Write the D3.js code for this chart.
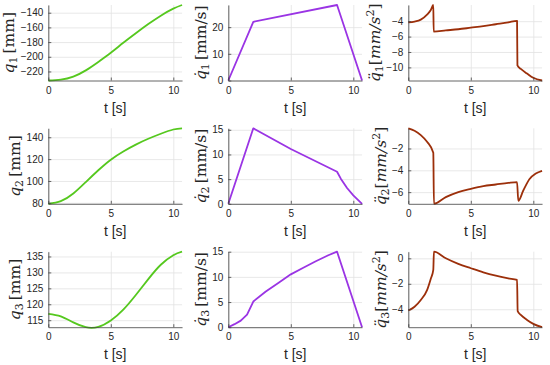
<!DOCTYPE html>
<html>
<head>
<meta charset="utf-8">
<script src="https://cdn.jsdelivr.net/npm/d3@7"></script>
<style>
  body { margin: 0; background: #fff; }
  .tick text { font-family: "Liberation Sans", Arial, sans-serif; font-size: 10px; fill: #262626; }
  .axis path, .axis line { stroke: #404040; stroke-width: 0.8; }
  .grid line { stroke: #e2e2e2; stroke-width: 0.8; }
  .grid path { display: none; }
</style>
</head>
<body>
<svg id="fig" width="550" height="365"></svg>
<script>
// joint positions (mm), sampled every second
var tPos = [0, 1, 2, 3, 4, 5, 6, 7, 8, 9, 10, 10.7];
var q1 = [-232.3, -231.2, -227, -218.5, -207, -194.5, -181, -168, -155.5, -144, -134.5, -129.5];
var q2 = [79.1, 81.5, 88.5, 99, 109.8, 119.5, 127, 133.3, 138.6, 143.2, 147.1, 148.2];
var q3 = [117, 116.2, 114.3, 112.8, 112.9, 114.9, 118.3, 122.9, 127.9, 132.4, 135.4, 136.5];

// joint velocities (mm/s)
var q1dT = [0, 2, 8.7, 10.7];
var q1d = [0, 22, 28.3, 0];
var q2dT = [0, 2, 5, 8.7, 9, 9.5, 10, 10.7];
var q2d = [0, 15.3, 11.1, 6.5, 5.1, 3.2, 1.7, 0];
var q3dT = [0, 0.5, 1, 1.5, 2, 3, 4, 5, 6, 7, 8, 8.7, 10.7];
var q3d = [0, 0.6, 1.3, 2.5, 5.1, 7.1, 8.8, 10.5, 11.8, 13.1, 14.3, 15, 0];

// joint accelerations (mm/s^2)
var q1ddT = [0, 0.5, 1, 1.5, 1.8, 2, 2.03, 3, 4, 5, 6, 7, 8, 8.7, 8.73, 9, 9.5, 10, 10.7];
var q1dd = [-4.15, -4.05, -3.8, -3.15, -2.55, -1.9, -5.35, -5.2, -5.05, -4.85, -4.65, -4.4, -4.15, -3.95, -9.75, -10.2, -10.8, -11.35, -11.7];
var q2ddT = [0, 0.5, 1, 1.5, 2, 2.05, 3, 4, 5, 6, 7, 8, 8.7, 8.8, 9.2, 9.7, 10.2, 10.7];
var q2dd = [-0.15, -0.37, -0.77, -1.38, -2.4, -7.07, -6.46, -6.0, -5.7, -5.45, -5.3, -5.15, -5.08, -6.8, -5.85, -4.8, -4.3, -4.05];
var q3ddT = [0, 0.5, 1, 1.5, 1.8, 2, 2.05, 3, 4, 5, 6, 7, 8, 8.7, 8.75, 9, 9.5, 10, 10.7];
var q3dd = [-4.1, -3.8, -3.27, -2.5, -1.6, -0.9, 0.52, 0, -0.44, -0.78, -1.1, -1.36, -1.57, -1.7, -4.15, -4.45, -4.84, -5.15, -5.41];

// tick labels
var xTicks = [0, 5, 10];
var yTicks = [
  [-220, -200, -180, -160, -140], [0, 10, 20], [-10, -8, -6, -4],
  [80, 100, 120, 140], [0, 5, 10, 15], [-6, -4, -2],
  [115, 120, 125, 130, 135], [0, 5, 10, 15], [-4, -2, 0]
];

var green = "#55c81e", purple = "#9a34e4", brown = "#9c2f0a";

// k: 0 position, 1 velocity, 2 acceleration
var panels = [
  {t: tPos, y: q1, c: green, k: 0, n: "1"},
  {t: q1dT, y: q1d, c: purple, k: 1, n: "1"},
  {t: q1ddT, y: q1dd, c: brown, k: 2, n: "1"},
  {t: tPos, y: q2, c: green, k: 0, n: "2"},
  {t: q2dT, y: q2d, c: purple, k: 1, n: "2"},
  {t: q2ddT, y: q2dd, c: brown, k: 2, n: "2"},
  {t: tPos, y: q3, c: green, k: 0, n: "3"},
  {t: q3dT, y: q3d, c: purple, k: 1, n: "3"},
  {t: q3ddT, y: q3dd, c: brown, k: 2, n: "3"}
];
var curves = [d3.curveNatural, d3.curveLinear, d3.curveMonotoneX];

var colLeft = [48.3, 228.3, 408.3],
  rowTop = [5, 128.3, 251.7],
  width = 133.75,
  height = 75.5;

var svg = d3.select("#fig");
var fmt = d3.format("d");

panels.forEach(function(p, i) {
  var row = Math.floor(i / 3), col = i % 3;
  var g = svg.append("g")
    .attr("transform", "translate(" + colLeft[col] + "," + rowTop[row] + ")");

  // axis tight
  var x = d3.scaleLinear().domain(d3.extent(p.t)).range([0, width]);
  var y = d3.scaleLinear().domain(d3.extent(p.y)).range([height, 0]);

  // grid
  g.append("g").attr("class", "grid")
    .call(d3.axisLeft(y).tickValues(yTicks[i]).tickSize(-width).tickFormat(""));
  g.append("g").attr("class", "grid")
    .attr("transform", "translate(0," + height + ")")
    .call(d3.axisBottom(x).tickValues(xTicks).tickSize(-height).tickFormat(""));

  // the curve
  var pts = p.t.map(function(d, j) { return [d, p.y[j]]; });
  var line = d3.line()
    .x(function(d) { return x(d[0]); })
    .y(function(d) { return y(d[1]); })
    .curve(curves[p.k]);
  g.append("path")
    .datum(pts)
    .attr("d", line)
    .attr("fill", "none")
    .attr("stroke", p.c)
    .attr("stroke-width", 1.8)
    .attr("stroke-linejoin", "round");

  // axes, ticks pointing inwards, no box
  var ya = g.append("g").attr("class", "axis")
    .call(d3.axisLeft(y).tickValues(yTicks[i]).tickFormat(fmt)
      .tickSizeInner(-3).tickSizeOuter(0).tickPadding(5));
  g.append("g").attr("class", "axis")
    .attr("transform", "translate(0," + height + ")")
    .call(d3.axisBottom(x).tickValues(xTicks).tickFormat(fmt)
      .tickSizeInner(-3).tickSizeOuter(0).tickPadding(6));

  // x label
  g.append("text")
    .attr("x", width / 2)
    .attr("y", height + 32)
    .attr("text-anchor", "middle")
    .style("font-family", "'Liberation Sans', Arial, sans-serif")
    .style("font-size", "14px")
    .style("fill", "#262626")
    .text("t [s]");

  // y label, latex-ish
  var bb = ya.node().getBBox();
  var lab = g.append("text")
    .attr("transform", "translate(" + (bb.x - 11) + "," + (height / 2) + ") rotate(-90)")
    .attr("text-anchor", "middle")
    .style("font-family", "'DejaVu Serif', 'Liberation Serif', serif")
    .style("font-size", "15.5px")
    .style("fill", "#262626");
  var mark = ["", "\u0307", "\u0308"][p.k];
  lab.append("tspan").attr("dy", "0.3em").style("font-style", "italic").text("q" + mark);
  lab.append("tspan").attr("dy", 3).style("font-size", "11px").text(p.n);
  if (p.k < 2) {
    lab.append("tspan").attr("dy", -3).text(p.k == 0 ? "\u2009[mm]" : "\u2009[mm/s]");
  } else {
    lab.append("tspan").attr("dy", -3).text("[");
    lab.append("tspan").style("font-style", "italic").text("mm/s");
    lab.append("tspan").attr("dy", -6).style("font-size", "11px").text("2");
    lab.append("tspan").attr("dy", 6).text("]");
  }
});
</script>
</body>
</html>
